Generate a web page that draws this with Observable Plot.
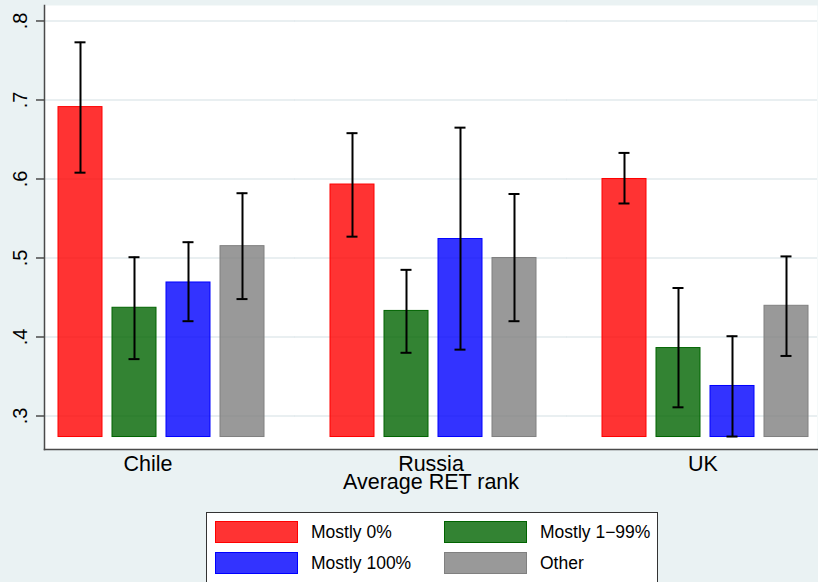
<!DOCTYPE html>
<html><head><meta charset="utf-8">
<script src="https://cdn.jsdelivr.net/npm/d3@7"></script>
<script src="https://cdn.jsdelivr.net/npm/@observablehq/plot@0.6"></script>
<style>
body{margin:0;background:#eaf2f3;font-family:"Liberation Sans",Arial,sans-serif;}
#wrap{position:relative;width:818px;height:582px;overflow:hidden;background:#eaf2f3;}
#chart svg{display:block;}
#legend{position:absolute;left:206px;top:512px;width:450px;height:90px;background:#fff;border:1px solid #333;}
.sw{position:absolute;width:81px;height:20px;border:1px solid;}
.lb{position:absolute;font-size:17.5px;color:#000;line-height:22px;white-space:nowrap;}
</style></head><body>
<div id="wrap"><div id="chart"></div><div id="legend"></div></div>
<script>
const countries = ["Chile", "Russia", "UK"];
const groups = ["Mostly 0%", "Mostly 1−99%", "Mostly 100%", "Other"];
const colors = ["#ff0000", "#006400", "#0000ff", "#808080"];
const chileMean = [0.691, 0.437, 0.469, 0.515];
const chileLo = [0.608, 0.372, 0.420, 0.448];
const chileHi = [0.773, 0.501, 0.520, 0.582];
const russiaMean = [0.593, 0.433, 0.524, 0.500];
const russiaLo = [0.527, 0.380, 0.384, 0.420];
const russiaHi = [0.658, 0.485, 0.665, 0.581];
const ukMean = [0.600, 0.386, 0.338, 0.4395];
const ukLo = [0.569, 0.311, 0.274, 0.376];
const ukHi = [0.633, 0.462, 0.401, 0.502];
const yTicks = [0.3, 0.4, 0.5, 0.6, 0.7, 0.8];
const yDomain = [0.2576, 0.8196];
const barBase = 0.2734;
const xTitle = "Average RET rank";

const series = {
  Chile: [chileMean, chileLo, chileHi],
  Russia: [russiaMean, russiaLo, russiaHi],
  UK: [ukMean, ukLo, ukHi]
};
const rows = [];
for (const c of countries) {
  const [m, lo, hi] = series[c];
  groups.forEach((g, i) => rows.push({country: c, group: g, mean: m[i], lo: lo[i], hi: hi[i]}));
}
const grid = c => yTicks.map(t => ({country: c, tick: t}));

const H = 500;
const axisColor = "#4a4a4a";
const gridStyle = {fx: "country", y: "tick", stroke: "#e2eaed", strokeWidth: 1.5};
const fxFont = 21.5;
const chart = Plot.plot({
  width: 818, height: H,
  marginLeft: 43, marginRight: 0, marginTop: 5, marginBottom: H - 449,
  style: {background: "transparent", fontFamily: "'Liberation Sans', Arial, sans-serif", color: "#000", overflow: "visible"},
  fx: {domain: countries, paddingInner: 0.158, paddingOuter: 0},
  x: {domain: groups, paddingInner: 0.184, paddingOuter: 0.211, align: 0.6, axis: null},
  y: {domain: yDomain},
  color: {domain: groups, range: colors},
  marks: [
    Plot.frame({fill: "white", stroke: null, facet: "super"}),
    Plot.ruleY(grid(countries[0]), {...gridStyle, insetRight: -22}),
    Plot.ruleY(grid(countries[1]), {...gridStyle, insetLeft: -22, insetRight: -22}),
    Plot.ruleY(grid(countries[2]), {...gridStyle, insetLeft: -22}),
    Plot.barY(rows, {fx: "country", x: "group", y1: barBase, y2: "mean", fill: "group", fillOpacity: 0.8, stroke: "group", strokeWidth: 1}),
    Plot.ruleX(rows, {fx: "country", x: "group", y1: "lo", y2: "hi", stroke: "black", strokeWidth: 2}),
    Plot.tickY(rows, {fx: "country", x: "group", y: "lo", stroke: "black", strokeWidth: 2, insetLeft: 16.5, insetRight: 16.5}),
    Plot.tickY(rows, {fx: "country", x: "group", y: "hi", stroke: "black", strokeWidth: 2, insetLeft: 16.5, insetRight: 16.5}),
    Plot.frame({anchor: "left", stroke: axisColor, strokeWidth: 1.5, facet: "super"}),
    Plot.frame({anchor: "bottom", stroke: axisColor, strokeWidth: 1.5, facet: "super"}),
    Plot.axisY({ticks: yTicks, tickFormat: d => d3.format(".1f")(d).replace(/^0/, ""), tickSize: 8, tickPadding: 10, tickRotate: -90, fontSize: 20, stroke: axisColor, strokeWidth: 1.5, label: null}),
    Plot.axisFx({anchor: "bottom", ticks: countries.slice(0, 1), dx: -11, tickSize: 0, tickPadding: 6, fontSize: fxFont, label: null}),
    Plot.axisFx({anchor: "bottom", ticks: countries.slice(1), tickSize: 0, tickPadding: 6, fontSize: fxFont, label: xTitle, labelAnchor: "center", labelOffset: 39, labelArrow: "none"})
  ]
});
document.getElementById("chart").appendChild(chart);

const legend = document.getElementById("legend");
const pos = [[8, 8], [237, 8], [8, 39], [237, 39]];
groups.forEach((g, i) => {
  const [lx, ly] = pos[i];
  const sw = document.createElement("div");
  sw.className = "sw";
  const c = d3.color(colors[i]);
  sw.style.left = lx + "px"; sw.style.top = ly + "px";
  sw.style.borderColor = colors[i];
  sw.style.background = c.copy({opacity: 0.8}).toString();
  legend.appendChild(sw);
  const lb = document.createElement("div");
  lb.className = "lb";
  lb.textContent = g;
  lb.style.left = (lx + 96) + "px"; lb.style.top = ly + "px";
  legend.appendChild(lb);
});
</script>
</body></html>
